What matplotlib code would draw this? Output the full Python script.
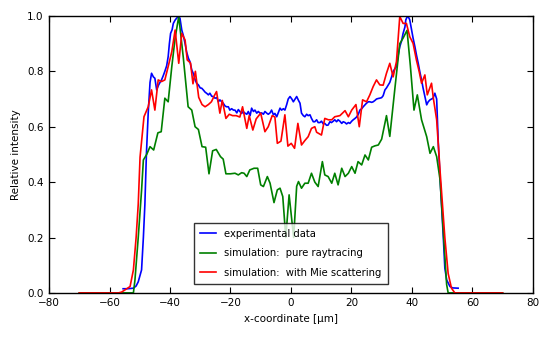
import matplotlib
matplotlib.use("Agg")
import matplotlib.pyplot as plt

plt.rcParams['font.family'] = ['DejaVu Sans']
plt.rcParams['font.size'] = 7.5

# experimental data (blue)
exp_x = [-55.5, -54.0, -52.1, -51.2, -50.5, -49.4, -48.8, -48.3, -47.8, -47.2,
         -46.6, -46.1, -45.5, -45.0, -44.4, -43.8, -43.3, -42.8, -42.2, -41.7,
         -41.1, -40.6, -40.2, -39.8, -39.3, -38.9, -38.3, -37.8, -37.2, -36.7,
         -36.1, -35.6, -35.0, -34.5, -33.9, -33.4, -32.8, -32.2, -31.7, -31.2,
         -30.6, -30.0, -29.5, -29.0, -28.4, -27.8, -27.3, -26.8, -26.2, -25.7,
         -25.1, -24.5, -24.0, -23.5, -22.9, -22.4, -21.8, -21.3, -20.7, -20.2,
         -19.6, -19.0, -18.5, -17.9, -17.4, -16.9, -16.3, -15.8, -15.2, -14.6,
         -14.1, -13.5, -13.0, -12.4, -11.9, -11.3, -10.8, -10.2, -9.7, -9.1,
         -8.6, -8.0, -7.5, -6.9, -6.4, -5.8, -5.3, -4.7, -4.2, -3.6,
         -3.1, -2.5, -2.0, -1.4, -0.9, -0.3, 0.3, 0.8, 1.4, 1.9,
         2.5, 3.0, 3.5, 4.1, 4.6, 5.2, 5.7, 6.3, 6.8, 7.4,
         7.9, 8.5, 9.0, 9.6, 10.1, 10.7, 11.2, 11.8, 12.3, 12.9,
         13.4, 14.0, 14.5, 15.1, 15.6, 16.2, 16.8, 17.3, 17.9, 18.4,
         19.0, 19.5, 20.1, 20.6, 21.2, 21.7, 22.3, 22.8, 23.4, 23.9,
         24.5, 25.0, 25.6, 26.1, 26.7, 27.2, 27.8, 28.3, 28.9, 29.4,
         30.0, 30.5, 31.1, 31.6, 32.2, 32.7, 33.3, 33.8, 34.4, 34.9,
         35.5, 36.0, 36.6, 37.1, 37.7, 38.0, 38.5, 38.9, 39.3, 39.9,
         40.4, 41.0, 41.5, 42.1, 42.6, 43.2, 43.7, 44.3, 44.9, 45.4,
         46.0, 46.5, 47.0, 47.6, 48.2, 48.7, 49.3, 49.8, 50.4, 50.9,
         51.5, 52.6, 53.5, 55.3]
exp_y = [0.015, 0.015, 0.017, 0.025, 0.040, 0.083, 0.200, 0.320, 0.500, 0.650,
         0.760, 0.793, 0.780, 0.775, 0.733, 0.750, 0.760, 0.769, 0.785, 0.800,
         0.820, 0.853, 0.900, 0.937, 0.950, 0.973, 0.985, 0.992, 0.998, 0.992,
         0.949, 0.930, 0.900, 0.870, 0.847, 0.835, 0.805, 0.790, 0.770, 0.757,
         0.751, 0.740, 0.739, 0.733, 0.725, 0.720, 0.715, 0.721, 0.710, 0.709,
         0.703, 0.705, 0.690, 0.697, 0.690, 0.685, 0.675, 0.672, 0.672, 0.660,
         0.665, 0.660, 0.660, 0.650, 0.662, 0.655, 0.648, 0.655, 0.649, 0.645,
         0.655, 0.640, 0.667, 0.655, 0.660, 0.649, 0.655, 0.649, 0.650, 0.645,
         0.655, 0.649, 0.645, 0.650, 0.660, 0.643, 0.648, 0.636, 0.650, 0.667,
         0.660, 0.665, 0.660, 0.680, 0.700, 0.709, 0.700, 0.690, 0.700, 0.709,
         0.695, 0.685, 0.649, 0.640, 0.636, 0.645, 0.640, 0.643, 0.630, 0.618,
         0.618, 0.625, 0.615, 0.615, 0.620, 0.610, 0.612, 0.605, 0.606, 0.618,
         0.615, 0.620, 0.625, 0.618, 0.625, 0.620, 0.612, 0.618, 0.615, 0.610,
         0.615, 0.612, 0.620, 0.625, 0.630, 0.635, 0.645, 0.660, 0.665, 0.672,
         0.679, 0.685, 0.690, 0.690, 0.688, 0.690, 0.695, 0.700, 0.702, 0.703,
         0.705, 0.712, 0.733, 0.740, 0.751, 0.760, 0.780, 0.799, 0.810, 0.817,
         0.860, 0.889, 0.910, 0.937, 0.960, 0.986, 0.998, 0.995, 0.986, 0.949,
         0.920, 0.889, 0.860, 0.829, 0.800, 0.769, 0.740, 0.709, 0.679, 0.690,
         0.697, 0.700, 0.703, 0.721, 0.700, 0.550, 0.420, 0.320, 0.200, 0.090,
         0.047, 0.023, 0.018, 0.017]

# simulation: pure raytracing (green)
ray_x = [-70.0, -60.0, -55.0, -52.1, -51.6, -50.5, -49.4, -48.8, -47.7, -46.6,
         -45.4, -44.0, -42.9, -41.7, -40.6, -39.4, -38.3, -37.1, -35.6, -34.0,
         -32.8, -31.7, -30.6, -29.4, -28.2, -27.1, -25.9, -24.7, -23.3, -22.4,
         -21.5, -20.0, -18.5, -17.4, -16.3, -15.5, -14.6, -13.6, -12.2, -11.0,
         -10.0, -9.1, -7.8, -6.9, -5.6, -4.5, -3.6, -2.7, -1.7, -0.6,
         0.9, 1.9, 2.5, 3.5, 4.6, 5.7, 6.8, 7.9, 9.0, 10.4,
         11.2, 12.3, 13.5, 14.5, 15.6, 16.8, 17.9, 19.0, 20.1, 21.2,
         22.2, 23.4, 24.5, 25.6, 26.7, 27.8, 28.9, 30.0, 31.6, 32.7,
         34.4, 36.0, 37.1, 38.4, 39.5, 40.7, 41.8, 43.2, 44.9, 46.0,
         47.1, 48.2, 49.3, 50.4, 51.5, 52.0, 60.0, 70.0]
ray_y = [0.0, 0.0, 0.0, 0.0, 0.045, 0.200, 0.370, 0.480, 0.500, 0.528,
         0.516, 0.578, 0.582, 0.703, 0.690, 0.817, 0.920, 0.998, 0.850, 0.672,
         0.660, 0.600, 0.590, 0.528, 0.526, 0.430, 0.513, 0.518, 0.492, 0.483,
         0.430, 0.430, 0.432, 0.426, 0.434, 0.432, 0.420, 0.444, 0.450, 0.450,
         0.390, 0.384, 0.420, 0.396, 0.326, 0.372, 0.378, 0.348, 0.200, 0.354,
         0.200, 0.385, 0.402, 0.378, 0.396, 0.396, 0.432, 0.400, 0.384, 0.474,
         0.426, 0.420, 0.396, 0.432, 0.390, 0.450, 0.420, 0.432, 0.456, 0.432,
         0.474, 0.462, 0.498, 0.480, 0.526, 0.531, 0.534, 0.555, 0.640, 0.565,
         0.740, 0.900, 0.920, 0.948, 0.820, 0.660, 0.715, 0.625, 0.564, 0.504,
         0.528, 0.492, 0.410, 0.220, 0.030, 0.0, 0.0, 0.0]

# simulation: with Mie scattering (red)
mie_x = [-70.0, -60.0, -57.0, -56.0, -55.0, -53.2, -52.1, -51.2, -50.5, -49.9,
         -48.6, -47.2, -46.1, -45.0, -43.9, -42.8, -41.7, -40.6, -39.4, -38.3,
         -37.1, -36.1, -35.0, -34.3, -33.2, -32.4, -31.6, -30.5, -29.4, -28.4,
         -27.3, -26.3, -25.2, -24.6, -23.5, -22.7, -21.5, -20.4, -19.3, -18.1,
         -16.9, -16.0, -14.6, -13.8, -12.6, -11.5, -10.0, -8.6, -7.5, -6.2,
         -5.3, -4.5, -3.3, -2.0, -1.0, 0.1, 1.2, 2.3, 3.5, 4.6,
         5.7, 6.8, 7.9, 8.5, 10.1, 11.2, 12.4, 13.5, 14.5, 16.2,
         17.9, 19.0, 20.1, 21.5, 22.6, 23.7, 25.0, 26.1, 27.2, 28.3,
         29.4, 30.5, 31.6, 32.7, 33.8, 34.9, 36.0, 37.1, 38.2, 39.3,
         40.4, 41.5, 42.4, 43.2, 44.3, 45.1, 46.5, 47.1, 48.2, 49.3,
         50.9, 52.0, 53.1, 54.2, 60.0, 70.0]
mie_y = [0.0, 0.0, 0.0, 0.003, 0.010, 0.023, 0.083, 0.200, 0.320, 0.490,
         0.636, 0.672, 0.733, 0.660, 0.769, 0.763, 0.769, 0.817, 0.871, 0.949,
         0.829, 0.937, 0.913, 0.841, 0.830, 0.755, 0.800, 0.706, 0.680, 0.672,
         0.680, 0.690, 0.715, 0.727, 0.649, 0.695, 0.630, 0.645, 0.640, 0.640,
         0.635, 0.672, 0.594, 0.640, 0.588, 0.628, 0.649, 0.582, 0.600, 0.640,
         0.635, 0.540, 0.548, 0.643, 0.530, 0.540, 0.522, 0.612, 0.534, 0.550,
         0.564, 0.594, 0.600, 0.580, 0.570, 0.630, 0.625, 0.625, 0.636, 0.640,
         0.658, 0.636, 0.660, 0.680, 0.600, 0.697, 0.690, 0.715, 0.745, 0.769,
         0.751, 0.750, 0.793, 0.829, 0.780, 0.835, 0.998, 0.973, 0.973, 0.925,
         0.901, 0.841, 0.800, 0.757, 0.787, 0.715, 0.757, 0.703, 0.625, 0.444,
         0.200, 0.070, 0.017, 0.0, 0.0, 0.0]

labels = ['experimental data', 'simulation:  pure raytracing',
          'simulation:  with Mie scattering']

fig = plt.figure(figsize=(5.51, 3.39), dpi=100)
ax = fig.add_axes([0.089, 0.136, 0.878, 0.817])

ax.plot(exp_x, exp_y, color='b', lw=1.2, label=labels[0])
ax.plot(ray_x, ray_y, color='g', lw=1.2, label=labels[1])
ax.plot(mie_x, mie_y, color='r', lw=1.2, label=labels[2])

ax.set_xlim(-80, 80)
ax.set_ylim(0, 1.0)
ax.set_xticks(range(-80, 81, 20))
ax.set_yticks([0.0, 0.2, 0.4, 0.6, 0.8, 1.0])
ax.set_yticklabels(['0.0', '0.2', '0.4', '0.6', '0.8', '1.0'])
ax.tick_params(direction='in', top=True, right=True, length=4, width=0.8, pad=4)
for s in ax.spines.values():
    s.set_linewidth(1.0)

ax.set_xlabel('x-coordinate [µm]')
ax.set_ylabel('Relative intensity')

leg = ax.legend(loc='lower center', fancybox=False, handlelength=1.6,
                labelspacing=0.95, borderpad=0.6, fontsize=7.2,
                bbox_to_anchor=(0.5, 0.015))
leg.get_frame().set_edgecolor('black')
leg.get_frame().set_linewidth(1.0)

fig.savefig('out.png', dpi=100)
